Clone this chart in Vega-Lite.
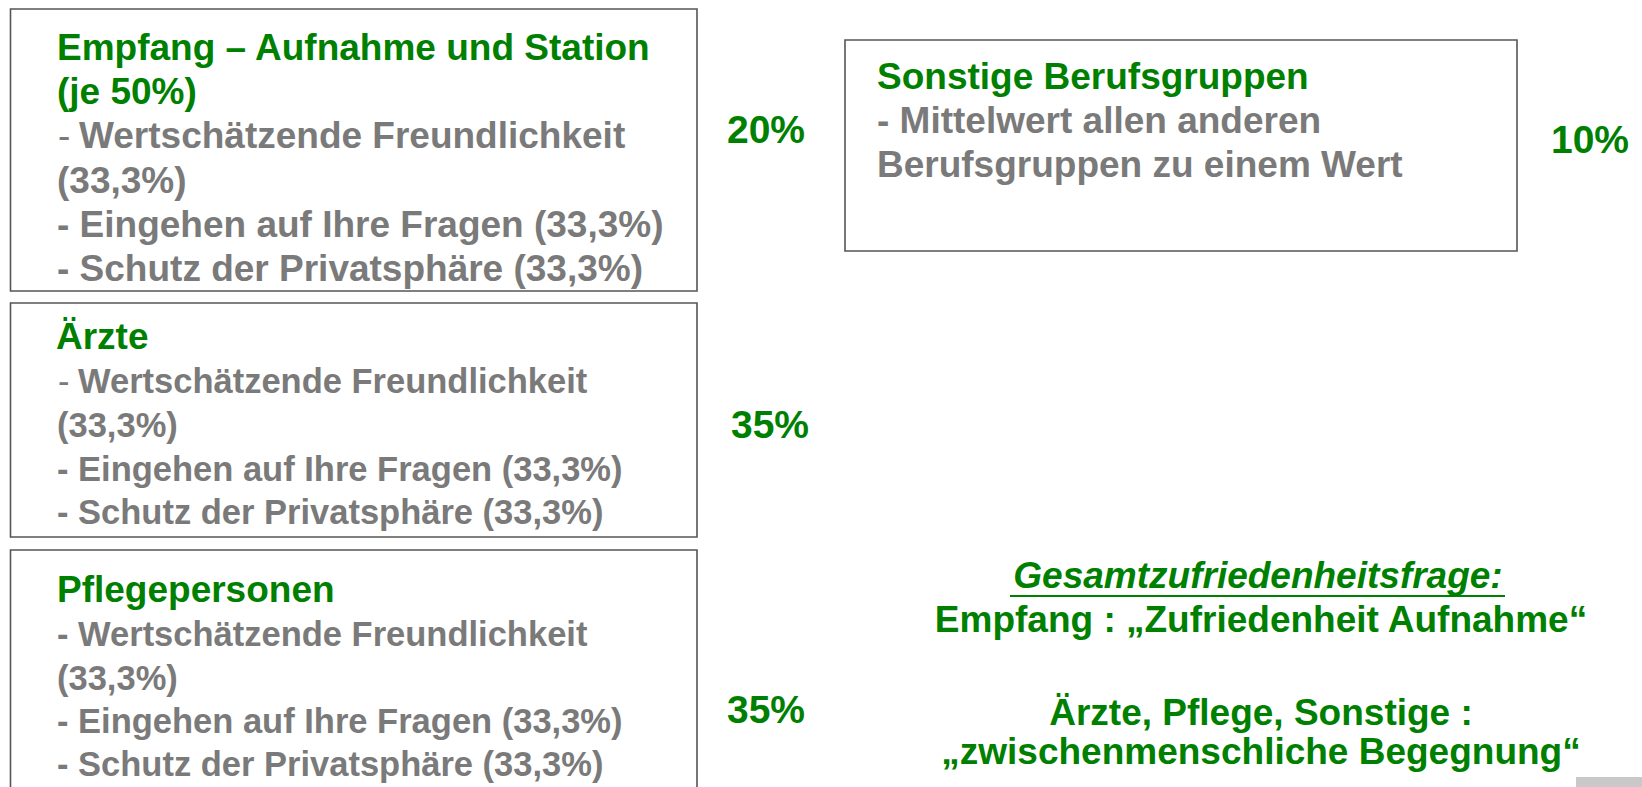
{
  "$schema": "https://vega.github.io/schema/vega-lite/v6.json",
  "autosize": {"type": "fit", "contains": "padding"},
  "width": 1642,
  "height": 787,
  "padding": 0,
  "background": "white",
  "config": {"view": {"stroke": null}},
  "data": {"values": [
    {"kind": "box", "x": 10.5, "x2": 697, "y": 9, "y2": 291},
    {"kind": "box", "x": 10.5, "x2": 697, "y": 303, "y2": 537},
    {"kind": "box", "x": 10.5, "x2": 697, "y": 550, "y2": 820},
    {"kind": "box", "x": 845, "x2": 1517, "y": 40, "y2": 251},
    {"kind": "corner", "x": 1576, "x2": 1642, "y": 777, "y2": 787},
    {"kind": "head", "x": 57, "y": 60, "text": "Empfang – Aufnahme und Station"},
    {"kind": "head", "x": 57, "y": 104, "text": "(je 50%)"},
    {"kind": "dash", "x": 58, "y": 148, "text": "-"},
    {"kind": "body", "x": 79, "y": 148, "text": "Wertschätzende Freundlichkeit"},
    {"kind": "body", "x": 57, "y": 193, "text": "(33,3%)"},
    {"kind": "body", "x": 57, "y": 237, "text": "- Eingehen auf Ihre Fragen (33,3%)"},
    {"kind": "body", "x": 57, "y": 281, "text": "- Schutz der Privatsphäre (33,3%)"},
    {"kind": "head", "x": 56, "y": 349, "text": "Ärzte"},
    {"kind": "dash2", "x": 58, "y": 393, "text": "-"},
    {"kind": "body2", "x": 78, "y": 393, "text": "Wertschätzende Freundlichkeit"},
    {"kind": "body2", "x": 57, "y": 437, "text": "(33,3%)"},
    {"kind": "body2", "x": 57, "y": 481, "text": "- Eingehen auf Ihre Fragen (33,3%)"},
    {"kind": "body2", "x": 57, "y": 524, "text": "- Schutz der Privatsphäre (33,3%)"},
    {"kind": "head", "x": 57, "y": 602, "text": "Pflegepersonen"},
    {"kind": "body2", "x": 57, "y": 646, "text": "- Wertschätzende Freundlichkeit"},
    {"kind": "body2", "x": 57, "y": 690, "text": "(33,3%)"},
    {"kind": "body2", "x": 57, "y": 733, "text": "- Eingehen auf Ihre Fragen (33,3%)"},
    {"kind": "body2", "x": 57, "y": 776, "text": "- Schutz der Privatsphäre (33,3%)"},
    {"kind": "head", "x": 877, "y": 89, "text": "Sonstige Berufsgruppen"},
    {"kind": "body", "x": 877, "y": 133, "text": "- Mittelwert allen anderen"},
    {"kind": "body", "x": 877, "y": 177, "text": "Berufsgruppen zu einem Wert"},
    {"kind": "pct", "x": 766, "y": 143, "text": "20%"},
    {"kind": "pct", "x": 770, "y": 438, "text": "35%"},
    {"kind": "pct", "x": 766, "y": 723, "text": "35%"},
    {"kind": "pct", "x": 1590, "y": 153, "text": "10%"},
    {"kind": "title", "x": 1258, "y": 588, "text": "Gesamtzufriedenheitsfrage:"},
    {"kind": "note", "x": 1261, "y": 632, "text": "Empfang : „Zufriedenheit Aufnahme“"},
    {"kind": "note", "x": 1261, "y": 725, "text": "Ärzte, Pflege, Sonstige :"},
    {"kind": "note", "x": 1261, "y": 764, "text": "„zwischenmenschliche Begegnung“"},
    {"kind": "uline", "x": 1010, "x2": 1505, "y": 596}
  ]},
  "encoding": {
    "x": {"field": "x", "type": "quantitative", "scale": {"domain": [0, 1642], "nice": false, "zero": false}, "axis": null},
    "y": {"field": "y", "type": "quantitative", "scale": {"domain": [0, 787], "nice": false, "zero": false, "reverse": true}, "axis": null}
  },
  "layer": [
    {
      "transform": [{"filter": "datum.kind === 'box'"}],
      "mark": {"type": "rect", "fill": "white", "fillOpacity": 0, "stroke": "#555555", "strokeWidth": 1.6, "clip": true},
      "encoding": {"x2": {"field": "x2"}, "y2": {"field": "y2"}}
    },
    {
      "transform": [{"filter": "datum.kind === 'corner'"}],
      "mark": {"type": "rect", "fill": "#c9c9c9", "clip": true},
      "encoding": {"x2": {"field": "x2"}, "y2": {"field": "y2"}}
    },
    {
      "transform": [{"filter": "datum.kind === 'uline'"}],
      "mark": {"type": "rule", "color": "#008000", "strokeWidth": 2},
      "encoding": {"x2": {"field": "x2"}}
    },
    {
      "transform": [{"filter": "datum.kind === 'head'"}],
      "mark": {"type": "text", "align": "left", "baseline": "alphabetic", "font": "Liberation Sans", "fontWeight": "bold", "fontSize": 37, "color": "#008000"},
      "encoding": {"text": {"field": "text"}}
    },
    {
      "transform": [{"filter": "datum.kind === 'body'"}],
      "mark": {"type": "text", "align": "left", "baseline": "alphabetic", "font": "Liberation Sans", "fontWeight": "bold", "fontSize": 37, "color": "#7a7a7a"},
      "encoding": {"text": {"field": "text"}}
    },
    {
      "transform": [{"filter": "datum.kind === 'body2'"}],
      "mark": {"type": "text", "align": "left", "baseline": "alphabetic", "font": "Liberation Sans", "fontWeight": "bold", "fontSize": 34.5, "color": "#7a7a7a"},
      "encoding": {"text": {"field": "text"}}
    },
    {
      "transform": [{"filter": "datum.kind === 'dash'"}],
      "mark": {"type": "text", "align": "left", "baseline": "alphabetic", "font": "Liberation Sans", "fontWeight": "normal", "fontSize": 37, "color": "#7a7a7a"},
      "encoding": {"text": {"field": "text"}}
    },
    {
      "transform": [{"filter": "datum.kind === 'dash2'"}],
      "mark": {"type": "text", "align": "left", "baseline": "alphabetic", "font": "Liberation Sans", "fontWeight": "normal", "fontSize": 34.5, "color": "#7a7a7a"},
      "encoding": {"text": {"field": "text"}}
    },
    {
      "transform": [{"filter": "datum.kind === 'pct'"}],
      "mark": {"type": "text", "align": "center", "baseline": "alphabetic", "font": "Liberation Sans", "fontWeight": "bold", "fontSize": 39, "color": "#008000"},
      "encoding": {"text": {"field": "text"}}
    },
    {
      "transform": [{"filter": "datum.kind === 'title'"}],
      "mark": {"type": "text", "align": "center", "baseline": "alphabetic", "font": "Liberation Sans", "fontWeight": "bold", "fontStyle": "italic", "fontSize": 37, "color": "#008000"},
      "encoding": {"text": {"field": "text"}}
    },
    {
      "transform": [{"filter": "datum.kind === 'note'"}],
      "mark": {"type": "text", "align": "center", "baseline": "alphabetic", "font": "Liberation Sans", "fontWeight": "bold", "fontSize": 37, "color": "#008000"},
      "encoding": {"text": {"field": "text"}}
    }
  ]
}
